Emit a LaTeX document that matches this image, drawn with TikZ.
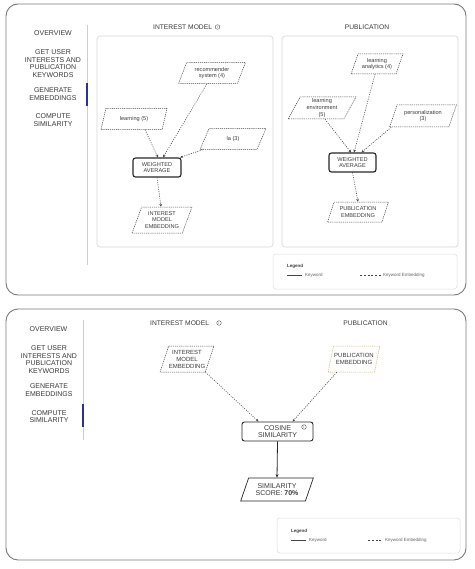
\documentclass[tikz,border=0pt]{standalone}
\usepackage{fontspec}
\setmainfont{Liberation Sans}
\usetikzlibrary{shapes.geometric,arrows.meta}
\definecolor{txt}{HTML}{3A3A3A}
\definecolor{panelc}{HTML}{7A7A7A}
\definecolor{innerc}{HTML}{D4D4D4}
\definecolor{sepc}{HTML}{CFCFCF}
\definecolor{barc}{HTML}{2E3192}
\definecolor{orangec}{HTML}{D6B26A}
\definecolor{linec}{HTML}{444444}
\begin{document}
\begin{tikzpicture}[x=1pt,y=-1pt,
  panel/.style={draw=panelc,line width=0.9pt,rounded corners=12pt},
  inner/.style={draw=innerc,line width=0.6pt,rounded corners=3pt},
  legbox/.style={draw=innerc!80,line width=0.5pt,rounded corners=3pt},
  side/.style={text=txt,align=center,font=\fontsize{7}{7.8}\selectfont,inner sep=0pt},
  ttl/.style={text=txt,font=\fontsize{6.7}{8}\selectfont,inner sep=0pt},
  kw/.style={trapezium,trapezium left angle=65,trapezium right angle=115,trapezium stretches=true,
     draw=linec,line width=0.5pt,dash pattern=on 1.2pt off 0.9pt,align=center,inner sep=0pt,
     text=txt,font=\fontsize{5.6}{6.6}\selectfont},
  kwb/.style={kw,font=\fontsize{6}{7}\selectfont},
  op/.style={rectangle,rounded corners=2.5pt,draw=black!85,line width=1.1pt,align=center,inner sep=0pt,
     text=txt,font=\fontsize{5.6}{6.6}\selectfont},
  conn/.style={draw=linec,line width=0.6pt,dash pattern=on 1pt off 1.3pt,-{Stealth[length=2.8pt,width=2.6pt]}},
  icon/.style={circle,draw=txt,line width=0.35pt,inner sep=0pt,minimum size=4.6pt,text=txt,font=\fontsize{3.4}{3.4}\selectfont},
  legt/.style={text=txt!80,font=\fontsize{4.5}{5}\selectfont,inner sep=0pt,anchor=west},
  bar/.style={draw=barc,line width=1.6pt},
  sep/.style={draw=sepc,line width=0.6pt}
]
\useasboundingbox (0,0) rectangle (474,569);

% ================= TOP PANEL =================
\draw[panel] (6,4) rectangle (466,295);
\draw[sep] (87,25) -- (87,265);
\draw[bar] (87,83) -- (87,106);
\node[side] (s1) at (53,33) {OVERVIEW};
\node[side] (s2) at (53,63.5) {GET USER\\INTERESTS AND\\PUBLICATION\\KEYWORDS};
\node[side] (s3) at (53,94) {GENERATE\\EMBEDDINGS};
\node[side] (s4) at (53,120) {COMPUTE\\SIMILARITY};

\node[ttl,anchor=west] (t1) at (153,27) {INTEREST MODEL};
\node[icon] (i1) at (217.5,27) {i};
\node[ttl] (t2) at (367,27) {PUBLICATION};

\draw[inner] (97,36) rectangle (273,247);
\draw[inner] (282,36) rectangle (458,247);

% interest model
\node[kw,minimum width=67pt,minimum height=21pt] (rec) at (212,73) {recommender\\system (4)};
\node[kw,minimum width=66pt,minimum height=21pt] (lrn) at (134,119) {learning (5)};
\node[kw,minimum width=66pt,minimum height=21pt] (la) at (233,139) {la (3)};
\node[op,minimum width=48pt,minimum height=19pt] (wa) at (157,167.5) {WEIGHTED\\AVERAGE};
\node[kw,minimum width=60pt,minimum height=26pt] (ime) at (162,220) {INTEREST\\MODEL\\EMBEDDING};

\draw[conn] ([xshift=11pt]lrn.south) -- ([xshift=1pt]wa.north);
\draw[conn] ([xshift=-5pt]rec.south) -- ([xshift=6pt]wa.north);
\draw[conn] ([xshift=3pt]la.bottom left corner) -- ([xshift=-1.5pt]wa.north east);
\draw[conn] (wa.south) -- ([xshift=-1pt]ime.north);

% publication
\node[kw,minimum width=52pt,minimum height=20pt] (lan) at (377,64) {learning\\analytics (4)};
\node[kw,minimum width=68pt,minimum height=22pt] (len) at (322,108) {learning\\environment\\(5)};
\node[kw,minimum width=67pt,minimum height=22pt] (per) at (423,116) {personalization\\(3)};
\node[op,minimum width=47pt,minimum height=19pt] (wa2) at (352.5,162.5) {WEIGHTED\\AVERAGE};
\node[kw,minimum width=61pt,minimum height=20pt] (pe) at (358,212) {PUBLICATION\\EMBEDDING};

\draw[conn] ([xshift=3pt]len.south) -- ([xshift=-1.5pt]wa2.north);
\draw[conn] ([xshift=-2pt]lan.south) -- ([xshift=1.5pt]wa2.north);
\draw[conn] ([xshift=2pt]per.bottom left corner) -- ([xshift=9pt]wa2.north);
\draw[conn] (wa2.south) -- (pe.north);

% legend
\draw[legbox] (273,254) rectangle (457,289);
\node[legt,font=\fontsize{4.5}{5}\selectfont\bfseries,text=txt] (lg1) at (287,266) {Legend};
\coordinate (l1a) at (287,275); \coordinate (l1b) at (302,275);
\draw[linec,line width=0.5pt] (l1a) -- (l1b);
\node[legt] (lk1) at (305,275) {Keyword};
\coordinate (l1c) at (360,275); \coordinate (l1d) at (381,275);
\draw[linec,line width=0.5pt,dash pattern=on 2pt off 1.8pt] (l1c) -- (l1d);
\node[legt] (lke1) at (383,275) {Keyword Embedding};

% ================= BOTTOM PANEL =================
\draw[panel] (6,309) rectangle (466,560);
\draw[sep] (83,320) -- (83,440);
\draw[bar] (83,404) -- (83,427);
\node[side] (b1) at (48.5,329) {OVERVIEW};
\node[side] (b2) at (49,359.5) {GET USER\\INTERESTS AND\\PUBLICATION\\KEYWORDS};
\node[side] (b3) at (49,390) {GENERATE\\EMBEDDINGS};
\node[side] (b4) at (49,416.5) {COMPUTE\\SIMILARITY};

\node[ttl,anchor=west] (bt1) at (150,323) {INTEREST MODEL};
\node[icon] (bi1) at (219,323) {i};
\node[ttl] (bt2) at (365.5,323) {PUBLICATION};

\node[kwb,minimum width=54pt,minimum height=26pt] (ime3) at (187,359) {INTEREST\\MODEL\\EMBEDDING};
\node[kwb,draw=orangec,minimum width=52pt,minimum height=26pt] (pe3) at (354,359) {PUBLICATION\\EMBEDDING};
\node[op,line width=0.9pt,minimum width=71pt,minimum height=19pt,font=\fontsize{7}{7.8}\selectfont] (cos) at (277.5,431.5) {COSINE\\SIMILARITY};
\node[icon] (ci) at (304,427) {i};
\node[kw,draw=black!85,solid,line width=0.7pt,minimum width=73pt,minimum height=23pt,font=\fontsize{7}{7.8}\selectfont] (score) at (277,489.5) {SIMILARITY\\SCORE: \textbf{70\%}};

\draw[conn] (ime3.bottom right corner) -- ([xshift=-19pt]cos.north);
\draw[conn] ([xshift=9pt]pe3.bottom left corner) -- ([xshift=15pt]cos.north);
\draw[black!85,line width=0.8pt,-{Stealth[length=3.5pt,width=3pt]}] (cos.south) -- (score.north);

% legend
\draw[legbox] (277,518) rectangle (460,553);
\node[legt,font=\fontsize{4.5}{5}\selectfont\bfseries,text=txt] (lg2) at (291,531) {Legend};
\coordinate (l2a) at (291,540); \coordinate (l2b) at (306,540);
\draw[linec,line width=0.5pt] (l2a) -- (l2b);
\node[legt] (lk2) at (309,540) {Keyword};
\coordinate (l2c) at (368,540); \coordinate (l2d) at (383,540);
\draw[linec,line width=0.5pt,dash pattern=on 2pt off 1.8pt] (l2c) -- (l2d);
\node[legt] (lke2) at (385,540) {Keyword Embedding};
\end{tikzpicture}
\end{document}
